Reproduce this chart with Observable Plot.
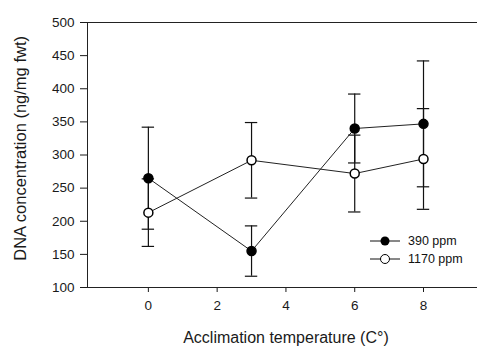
<!DOCTYPE html>
<html><head><meta charset="utf-8">
<script src="https://cdn.jsdelivr.net/npm/d3@7"></script>
<script src="https://cdn.jsdelivr.net/npm/@observablehq/plot@0.6"></script>
<style>
body{margin:0;background:#fff;font-family:"Liberation Sans",Arial,sans-serif;}
#wrap{position:relative;width:477px;height:351px;}
#legend{position:absolute;left:368px;top:232px;font-size:12.5px;color:#111;}
#legend div{display:flex;align-items:center;height:18px;}
#legend span{margin-left:6px;}
</style></head>
<body><div id="wrap"><div id="chart"></div>
<div id="legend">
<div><svg width="34" height="12"><line x1="2" x2="32" y1="6" y2="6" stroke="#111"/><circle cx="17" cy="6" r="4.5" fill="#000"/></svg><span>390 ppm</span></div>
<div><svg width="34" height="12"><line x1="2" x2="32" y1="6" y2="6" stroke="#111"/><circle cx="17" cy="6" r="4.5" fill="#fff" stroke="#000"/></svg><span>1170 ppm</span></div>
</div></div>
<script>
const temps = [0, 3, 6, 8];
const mean390 = [265, 155, 340, 347];
const err390 = [77, 38, 52, 95];
const mean1170 = [213, 292, 272, 294];
const err1170 = [51, 57, 58, 76];
const yTicks = [100, 150, 200, 250, 300, 350, 400, 450, 500];
const xTicks = [0, 2, 4, 6, 8];
const xDomain = [-1.77, 9.57];
const yDomain = [100, 500];

const rows = [];
temps.forEach((t, i) => {
  rows.push({series: "390 ppm", x: t, y: mean390[i], e: err390[i]});
  rows.push({series: "1170 ppm", x: t, y: mean1170[i], e: err1170[i]});
});
const s390 = rows.filter(d => d.series === "390 ppm");
const s1170 = rows.filter(d => d.series === "1170 ppm");
const cap = 0.18;

const chart = Plot.plot({
  width: 477, height: 351,
  marginLeft: 87, marginTop: 22, marginBottom: 64, marginRight: 0,
  style: {fontFamily: "Liberation Sans, Arial, sans-serif", fontSize: "13px", color: "#1a1a1a", background: "#fff"},
  x: {domain: xDomain, ticks: xTicks},
  y: {domain: yDomain, ticks: yTicks},
  marks: [
    Plot.axisY({ticks: yTicks, tickSize: 7, tickPadding: 6, label: null, fontSize: 13.5}),
    Plot.axisX({ticks: xTicks, tickSize: 5, tickPadding: 8, label: null, fontSize: 13.5}),
    Plot.text(["DNA concentration (ng/mg fwt)"], {frameAnchor: "left", y: () => 310, rotate: -90, textAnchor: "middle", dx: -67, fontSize: 16.5}),
    Plot.text(["Acclimation temperature (C°)"], {frameAnchor: "bottom", x: () => 4, dy: 55, fontSize: 16}),
    Plot.ruleX([xDomain[0]], {stroke: "#222"}),
    Plot.ruleY([yDomain[0], yDomain[1]], {stroke: "#222"}),
    Plot.ruleX(rows, {x: "x", y1: d => d.y - d.e, y2: d => d.y + d.e, stroke: "#111", strokeWidth: 1.2}),
    Plot.ruleY(rows, {y: d => d.y - d.e, x1: d => d.x - cap, x2: d => d.x + cap, stroke: "#111", strokeWidth: 1.2}),
    Plot.ruleY(rows, {y: d => d.y + d.e, x1: d => d.x - cap, x2: d => d.x + cap, stroke: "#111", strokeWidth: 1.2}),
    Plot.line(s390, {x: "x", y: "y", stroke: "#222", strokeWidth: 1}),
    Plot.line(s1170, {x: "x", y: "y", stroke: "#222", strokeWidth: 1}),
    Plot.dot(s390, {x: "x", y: "y", r: 4.5, fill: "#000", stroke: "#000"}),
    Plot.dot(s1170, {x: "x", y: "y", r: 4.5, fill: "#fff", stroke: "#000"})
  ]
});
document.getElementById("chart").appendChild(chart);
</script></body></html>
